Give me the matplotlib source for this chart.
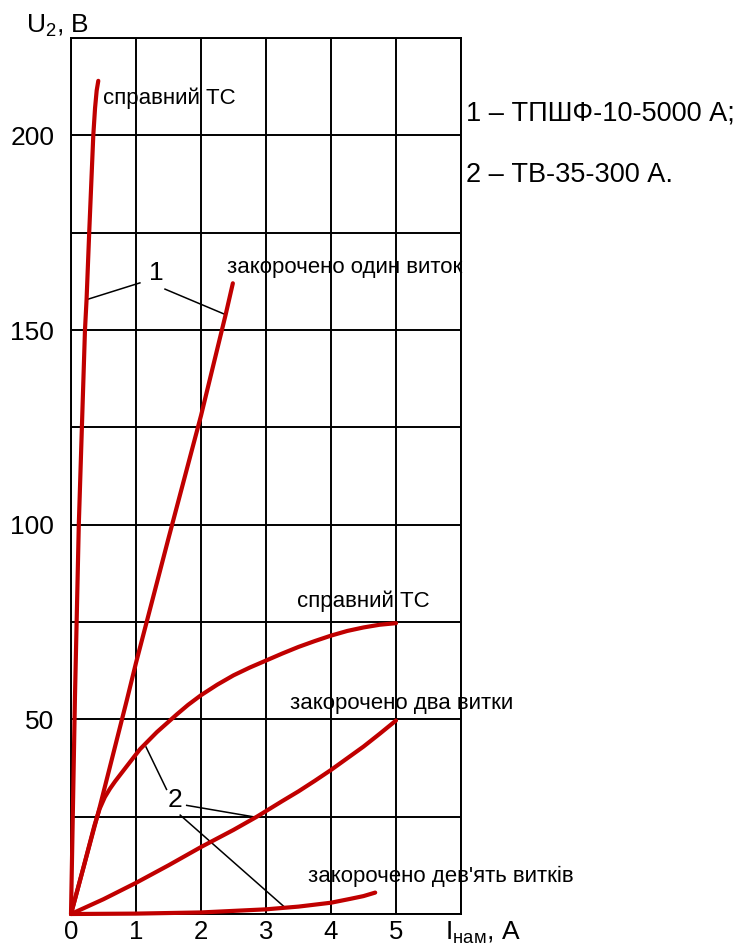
import numpy as np
import matplotlib
matplotlib.use('Agg')
import matplotlib.pyplot as plt

plt.rcParams['font.family'] = ['Liberation Sans', 'DejaVu Sans']
plt.rcParams['mathtext.fontset'] = 'custom'
plt.rcParams['mathtext.rm'] = 'Liberation Sans'
plt.rcParams['mathtext.it'] = 'Liberation Sans'

# transformer 1 (ТПШФ-10-5000 А)
t1_ok_i = [0, 0.06, 0.12, 0.215, 0.24, 0.28, 0.343, 0.37, 0.395, 0.42]
t1_ok_u = [0, 55, 100, 150, 158, 175, 200, 207, 211.5, 214]
t1_one_i = [0, 0.435, 0.86, 1.0, 1.5, 2.0, 2.38, 2.49]
t1_one_u = [0, 27, 55, 64.5, 96.5, 128, 154, 162]

# transformer 2 (ТВ-35-300 А)
t2_ok_i = [0, 0.2, 0.36, 0.44, 0.52, 0.6, 0.68, 0.86, 1.06, 1.32, 1.63, 1.8,
           2.0, 2.25, 2.5, 2.75, 3.0, 3.25, 3.5, 3.75, 4.0, 4.25, 4.5, 4.75, 5.0]
t2_ok_u = [0, 12.5, 22.7, 27, 30, 32.2, 34.1, 38, 42.3, 46.7, 51.3, 53.7,
           56.2, 58.9, 61.3, 63.3, 65.1, 66.9, 68.6, 70.1, 71.5, 72.7, 73.6, 74.3, 74.7]
t2_two_i = [0, 0.5, 1, 1.5, 2, 2.5, 2.86, 3.25, 3.5, 3.75, 4.0, 4.25, 4.5, 4.75, 5.0]
t2_two_u = [0, 3.8, 8, 12.5, 17.2, 21.6, 25, 29, 31.5, 34.2, 37, 40, 43, 46.3, 49.7]
t2_nine_i = [0, 1, 2, 2.5, 3.0, 3.5, 4.0, 4.3, 4.5, 4.68]
t2_nine_u = [0, 0.1, 0.4, 0.8, 1.2, 1.9, 2.9, 3.9, 4.6, 5.5]

x_ticks = [0, 1, 2, 3, 4, 5]
y_ticks = [50, 100, 150, 200]

W, H = 739, 947
fig = plt.figure(figsize=(W / 100, H / 100), dpi=100)
ax = fig.add_axes([71 / W, 1 - 914 / H, 390 / W, 876 / H])
ax.set_xlim(0, 6)
ax.set_ylim(0, 225)

for x in range(0, 7):
    ax.axvline(x, color='black', lw=1.4, zorder=1)
for y in np.arange(0, 226, 25):
    ax.axhline(y, color='black', lw=1.4, zorder=1)
for s in ax.spines.values():
    s.set_linewidth(1.4)

red = '#C00000'
for xs, ys in [(t1_ok_i, t1_ok_u), (t1_one_i, t1_one_u), (t2_ok_i, t2_ok_u),
               (t2_two_i, t2_two_u), (t2_nine_i, t2_nine_u)]:
    ax.plot(xs, ys, color=red, lw=3, solid_capstyle='round',
            solid_joinstyle='round', zorder=3, clip_on=False)

ax.set_xticks(x_ticks)
ax.set_yticks(y_ticks)
ax.tick_params(length=0, labelsize=19)
ax.tick_params(axis='y', pad=12)
ax.tick_params(axis='x', pad=4, labelsize=18.5)

fs = 16
ax.text(0.49, 209.5, 'справний ТС', fontsize=fs, va='center', zorder=4)
ax.text(2.4, 166, 'закорочено один виток', fontsize=fs, va='center', zorder=4)
ax.text(3.48, 80.3, 'справний ТС', fontsize=fs, va='center', zorder=4)
ax.text(3.37, 54.1, 'закорочено два витки', fontsize=fs, va='center', zorder=4)
ax.text(3.65, 9.7, "закорочено дев'ять витків", fontsize=fs, va='center', zorder=4)

# leader lines
ax.text(1.315, 164.7, '1', fontsize=19, ha='center', va='center')
ax.plot([0.24, 1.06], [157.8, 162.1], color='black', lw=1.1, zorder=2)
ax.plot([1.446, 2.37], [160.5, 154], color='black', lw=1.1, zorder=2)
ax.text(1.6, 29.2, '2', fontsize=19, ha='center', va='center')
ax.plot([1.154, 1.47], [42.9, 32], color='black', lw=1.1, zorder=2)
ax.plot([1.78, 2.83], [27.9, 24.9], color='black', lw=1.1, zorder=2)
ax.plot([1.68, 3.27], [25.4, 2.0], color='black', lw=1.1, zorder=2)

fig.text(26 / W, 1 - 33 / H, r'$\mathrm{U_2}$, В', fontsize=19, va='baseline')
fig.text(445 / W, 1 - 940 / H, r'$\mathrm{I_{нам}}$, А', fontsize=19, va='baseline')

fig.text(466 / W, 1 - 113 / H, '1 – ТПШФ-10-5000 А;', fontsize=19.5, va='center')
fig.text(466 / W, 1 - 175 / H, '2 – ТВ-35-300 А.', fontsize=19.5, va='center')

fig.savefig('out.png', dpi=100)
